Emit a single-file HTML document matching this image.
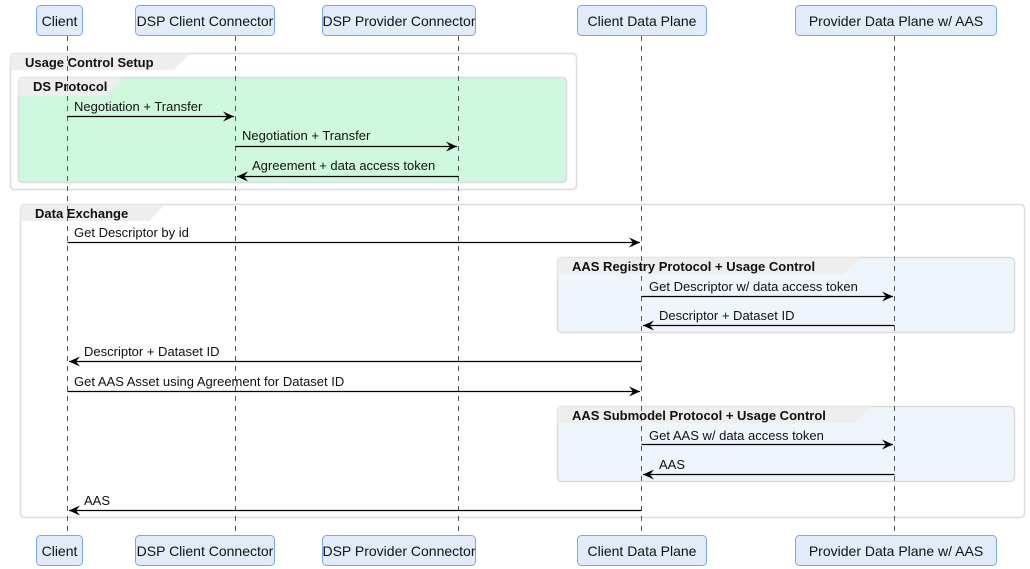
<!DOCTYPE html>
<html><head><style>
html,body{margin:0;padding:0;background:#fff;}
svg{display:block;font-family:"Liberation Sans",sans-serif;}
</style></head><body>
<svg width="1030" height="569" viewBox="0 0 1030 569" xmlns="http://www.w3.org/2000/svg">
<defs>
<marker id="a" markerWidth="12" markerHeight="10" refX="11" refY="5" orient="auto" markerUnits="userSpaceOnUse">
<path d="M0,0 L11,5 L0,10 L4,5 Z" fill="#000"/>
</marker>
</defs>
<rect x="10.5" y="53.5" width="566" height="136" rx="4" fill="#fff" stroke="#dcdcdc" stroke-width="1.5"/>
<path d="M10.5,70 L10.5,57 Q10.5,53.5 14,53.5 L190,53.5 L174,70 Z" fill="#eee"/>
<rect x="18.5" y="77.5" width="548" height="105" rx="4" fill="#cff9de" stroke="#dcdcdc" stroke-width="1.5"/>
<path d="M18.5,96 L18.5,81 Q18.5,77.5 22,77.5 L122,77.5 L106,96 Z" fill="#eee"/>

<rect x="20.5" y="204.5" width="1004" height="313" rx="4" fill="#fff" stroke="#dcdcdc" stroke-width="1.5"/>
<path d="M20.5,221 L20.5,208 Q20.5,204.5 24,204.5 L165,204.5 L149,221 Z" fill="#eee"/>

<rect x="557.5" y="257.5" width="457" height="75" rx="4" fill="#eff5fd" stroke="#dcdcdc" stroke-width="1.5"/>
<path d="M557.5,274 L557.5,261 Q557.5,257.5 561,257.5 L860,257.5 L844,274 Z" fill="#eee"/>

<rect x="557.5" y="406.5" width="457" height="75" rx="4" fill="#eff5fd" stroke="#dcdcdc" stroke-width="1.5"/>
<path d="M557.5,423 L557.5,410 Q557.5,406.5 561,406.5 L872,406.5 L856,423 Z" fill="#eee"/>

<g stroke="#555" stroke-dasharray="5,5" stroke-width="1">
<line x1="67.5" y1="36" x2="67.5" y2="535"/>
<line x1="235.5" y1="36" x2="235.5" y2="535"/>
<line x1="458.5" y1="36" x2="458.5" y2="535"/>
<line x1="641.5" y1="36" x2="641.5" y2="535"/>
<line x1="894.5" y1="36" x2="894.5" y2="535"/>
</g>

<g font-size="13" font-weight="bold" fill="#111">
<text x="25" y="67">Usage Control Setup</text>
<text x="33" y="91">DS Protocol</text>
<text x="35" y="218">Data Exchange</text>
<text x="572" y="271">AAS Registry Protocol + Usage Control</text>
<text x="572" y="420">AAS Submodel Protocol + Usage Control</text>
</g>

<g fill="#e2ebfa" stroke="#7aa7ea" stroke-width="1">
<rect x="36.5" y="5.5" width="46" height="30" rx="4"/>
<rect x="135.5" y="5.5" width="139" height="30" rx="4"/>
<rect x="322.5" y="5.5" width="153" height="30" rx="4"/>
<rect x="577.5" y="5.5" width="129" height="30" rx="4"/>
<rect x="795.5" y="5.5" width="201" height="30" rx="4"/>
<rect x="36.5" y="535.5" width="46" height="30" rx="4"/>
<rect x="135.5" y="535.5" width="139" height="30" rx="4"/>
<rect x="322.5" y="535.5" width="153" height="30" rx="4"/>
<rect x="577.5" y="535.5" width="129" height="30" rx="4"/>
<rect x="795.5" y="535.5" width="201" height="30" rx="4"/>
</g>
<g font-size="14" text-anchor="middle" fill="#111">
<text x="59.5" y="26">Client</text>
<text x="205" y="26">DSP Client Connector</text>
<text x="399" y="26">DSP Provider Connector</text>
<text x="642" y="26">Client Data Plane</text>
<text x="896" y="26">Provider Data Plane w/ AAS</text>
<text x="59.5" y="556">Client</text>
<text x="205" y="556">DSP Client Connector</text>
<text x="399" y="556">DSP Provider Connector</text>
<text x="642" y="556">Client Data Plane</text>
<text x="896" y="556">Provider Data Plane w/ AAS</text>
</g>

<g stroke="#000" stroke-width="1.2" marker-end="url(#a)">
<line x1="67.5" y1="116.5" x2="234" y2="116.5"/>
<line x1="235.5" y1="146.5" x2="457" y2="146.5"/>
<line x1="458.5" y1="176.5" x2="237" y2="176.5"/>
<line x1="67.5" y1="242.5" x2="640" y2="242.5"/>
<line x1="641.5" y1="296.5" x2="893" y2="296.5"/>
<line x1="894.5" y1="325.5" x2="643" y2="325.5"/>
<line x1="641.5" y1="361.5" x2="69" y2="361.5"/>
<line x1="67.5" y1="391.5" x2="640" y2="391.5"/>
<line x1="641.5" y1="444.5" x2="893" y2="444.5"/>
<line x1="894.5" y1="474.5" x2="643" y2="474.5"/>
<line x1="641.5" y1="510.5" x2="69" y2="510.5"/>
</g>
<g font-size="13" fill="#111">
<text x="74" y="111">Negotiation + Transfer</text>
<text x="242" y="140">Negotiation + Transfer</text>
<text x="252" y="170">Agreement + data access token</text>
<text x="74" y="237">Get Descriptor by id</text>
<text x="649" y="291">Get Descriptor w/ data access token</text>
<text x="659" y="320">Descriptor + Dataset ID</text>
<text x="84" y="356">Descriptor + Dataset ID</text>
<text x="74" y="386">Get AAS Asset using Agreement for Dataset ID</text>
<text x="649" y="440">Get AAS w/ data access token</text>
<text x="659" y="469">AAS</text>
<text x="84" y="505">AAS</text>
</g>
</svg>
</body></html>
